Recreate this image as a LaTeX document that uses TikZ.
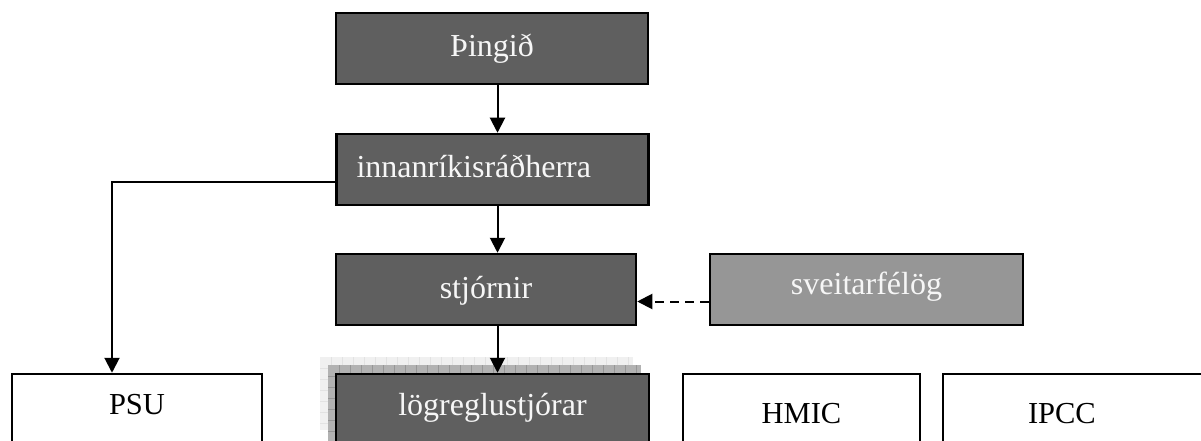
\documentclass[tikz,border=0pt]{standalone}
\usepackage{fontspec}
\setmainfont{Liberation Serif}
\usetikzlibrary{arrows.meta}
\definecolor{boxdark}{HTML}{5F5F5F}
\definecolor{boxmid}{HTML}{969696}
\definecolor{boxtext}{HTML}{F6F6F6}
\definecolor{shlight}{HTML}{F0F0F0}
\definecolor{shlightgrid}{HTML}{E2E2E2}
\definecolor{shdark}{HTML}{B2B2B2}
\definecolor{shdarkgrid}{HTML}{969696}
\begin{document}
\begin{tikzpicture}[x=1pt,y=-1pt,
  box/.style={draw=black, line width=2.5pt, minimum height=71pt, inner sep=0pt,
    text height=20pt, text depth=11pt},
  darkbox/.style={box, fill=boxdark, text=boxtext, font=\fontsize{32}{38}\selectfont},
  midbox/.style={box, fill=boxmid, text=boxtext, font=\fontsize{32}{38}\selectfont},
  whitebox/.style={box, fill=white, text=black, font=\fontsize{30.5}{36}\selectfont},
  arr/.style={line width=2pt, -{Triangle[width=15pt,length=15pt]}},
  dasharr/.style={arr, dash pattern=on 9pt off 6pt}]
\useasboundingbox (0,0) rectangle (1201,441);
\clip (0,0) rectangle (1201,441);
\fill[white] (0,0) rectangle (1201,441);

% shadow behind lögreglustjórar
\fill[shlight] (320,357) rectangle (633,430);
\foreach \x in {331,342,...,632} \draw[shlightgrid, line width=0.8pt] (\x,357) -- (\x,430);
\foreach \y in {368,379,...,429} \draw[shlightgrid, line width=0.8pt] (320,\y) -- (633,\y);
\fill[shdark] (328,365) rectangle (641,445);
\foreach \x in {339,350,...,640} \draw[shdarkgrid, line width=0.8pt] (\x,365) -- (\x,445);
\foreach \y in {376,387,...,440} \draw[shdarkgrid, line width=0.8pt] (328,\y) -- (641,\y);

\node[darkbox, minimum width=312pt, text height=25pt, text depth=8pt] (thing) at (492,48.5) {Þingið};
\node[darkbox, minimum width=312pt, text width=272pt, inner xsep=20pt, align=left, text height=23pt, text depth=8pt] (innan) at (492.5,169.5) {innanríkisráðherra};
\node[darkbox, minimum width=300pt, text height=24pt, text depth=7pt] (stj) at (486,289.5) {stjórnir};
\node[midbox, minimum width=313pt, text height=20pt, text depth=10pt] (sveit) at (866.5,289.5) {sveitarfélög};
\node[darkbox, minimum width=313pt, text height=22pt, text depth=11pt] (logr) at (492.5,409.5) {lögreglustjórar};
\node[whitebox, minimum width=250pt] (psu) at (137,409.5) {PSU};
\node[whitebox, minimum width=237pt, text height=27pt, text depth=0pt] (hmic) at (801.5,409.5) {HMIC};
\node[whitebox, minimum width=272pt, text width=102pt, inner xsep=85pt, align=left, text height=27pt, text depth=0pt] (ipcc) at (1079,409.5) {IPCC};

\coordinate (ax) at (497.5,0);
\draw[arr] (thing.south -| ax) -- (innan.north -| ax);
\draw[arr] (innan.south -| ax) -- (stj.north -| ax);
\draw[arr] (stj.south -| ax) -- (logr.north -| ax);
\draw[arr] ([yshift=-12.5pt]innan.west) -| ([xshift=-25pt]psu.north);
\draw[dasharr] ([yshift=-12pt]sveit.west) -- ([yshift=-12pt]stj.east);
\end{tikzpicture}
\end{document}
